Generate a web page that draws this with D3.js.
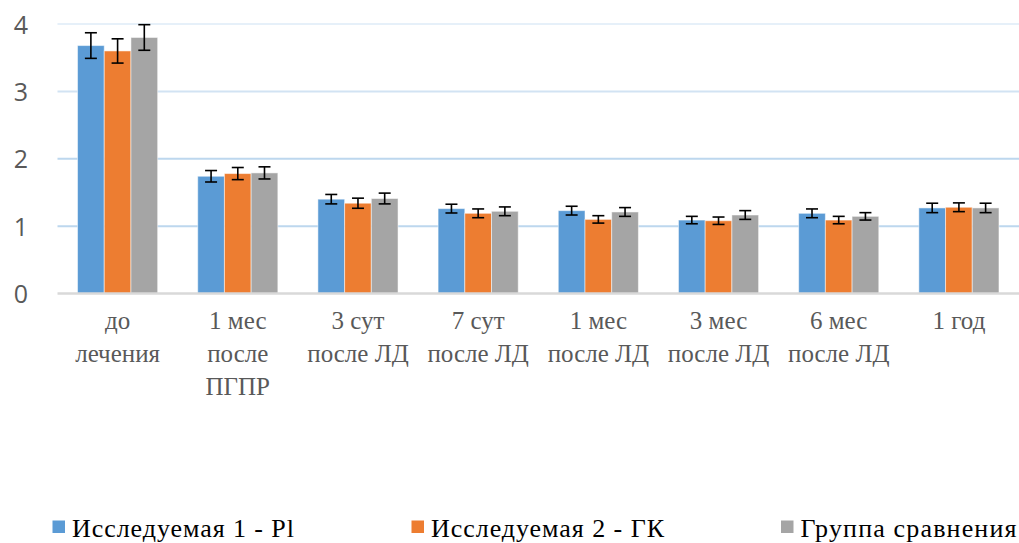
<!DOCTYPE html>
<html>
<head>
<meta charset="utf-8">
<script src="https://cdn.jsdelivr.net/npm/d3@7"></script>
<style>
  html, body { margin: 0; padding: 0; background: #fff; }
  svg { display: block; }
  .serif { font-family: "Liberation Serif", "Times New Roman", Tinos, "DejaVu Serif", "Noto Serif", serif; }
</style>
</head>
<body>
<svg id="chart" width="1019" height="543"></svg>
<script>
// Category labels (one entry per line of the wrapped label)
const categories = [
  ["до", "лечения"],
  ["1 мес", "после", "ПГПР"],
  ["3 сут", "после ЛД"],
  ["7 сут", "после ЛД"],
  ["1 мес", "после ЛД"],
  ["3 мес", "после ЛД"],
  ["6 мес", "после ЛД"],
  ["1 год"]
];

const seriesNames = ["Исследуемая 1 - Pl", "Исследуемая 2 - ГК", "Группа сравнения"];

// Mean values per group
const values1 = [3.68, 1.74, 1.40, 1.26, 1.23, 1.09, 1.19, 1.27];
const values2 = [3.60, 1.78, 1.34, 1.19, 1.10, 1.08, 1.09, 1.28];
const values3 = [3.80, 1.79, 1.41, 1.22, 1.21, 1.165, 1.145, 1.27];

// Error half-widths
const errors1 = [0.19, 0.085, 0.07, 0.065, 0.065, 0.055, 0.065, 0.07];
const errors2 = [0.18, 0.09, 0.075, 0.065, 0.055, 0.055, 0.055, 0.065];
const errors3 = [0.19, 0.09, 0.08, 0.065, 0.065, 0.065, 0.055, 0.07];

const yTicks = [0, 1, 2, 3, 4];

const colors = ["#5B9BD5", "#ED7D31", "#A5A5A5"];

const seriesValues = [values1, values2, values3];
const seriesErrors = [errors1, errors2, errors3];

const svg = d3.select("#chart");

const plot = { left: 57.5, right: 1019, top: 24, bottom: 293.5 };

const x = d3.scaleBand()
  .domain(d3.range(categories.length))
  .range([plot.left, plot.right])
  .paddingInner(1 / 3)
  .paddingOuter(1 / 6);

const xs = d3.scaleBand()
  .domain(d3.range(seriesNames.length))
  .range([0, x.bandwidth()]);

const y = d3.scaleLinear()
  .domain([0, 4])
  .range([plot.bottom, plot.top]);

// Horizontal gridlines
const gridColors = { 1: "#bdd7ee", 2: "#bdd7ee", 3: "#d2e3f3", 4: "#e6f0f9" };
svg.append("g")
  .selectAll("line")
  .data(yTicks.filter(d => d > 0))
  .join("line")
  .attr("x1", plot.left)
  .attr("x2", plot.right)
  .attr("y1", d => y(d))
  .attr("y2", d => y(d))
  .attr("stroke", d => gridColors[d])
  .attr("stroke-width", 2);

// Y axis labels (no axis line or ticks)
const yAxis = d3.axisLeft(y).tickValues(yTicks).tickSize(0).tickPadding(0).tickFormat(d3.format("d"));
const yg = svg.append("g")
  .attr("transform", "translate(28,0)")
  .call(yAxis);
yg.select(".domain").remove();
yg.selectAll("text")
  .attr("font-family", "'Open Sans', 'Noto Sans', sans-serif")
  .attr("font-size", 25)
  .attr("fill", "#595959")
  .attr("dy", "0.36em");

// Bars
const groups = svg.append("g")
  .selectAll("g")
  .data(seriesNames.map((name, s) => ({ s, vals: seriesValues[s], errs: seriesErrors[s] })))
  .join("g");

groups.selectAll("rect")
  .data(d => d.vals.map((v, i) => ({ s: d.s, i, v })))
  .join("rect")
  .attr("x", d => x(d.i) + xs(d.s))
  .attr("y", d => y(d.v))
  .attr("width", xs.bandwidth())
  .attr("height", d => y(0) - y(d.v))
  .attr("fill", d => colors[d.s])
  .attr("stroke", "#ffffff")
  .attr("stroke-opacity", 0.5)
  .attr("stroke-width", 1);

// Baseline
svg.append("line")
  .attr("x1", plot.left)
  .attr("x2", plot.right)
  .attr("y1", y(0))
  .attr("y2", y(0))
  .attr("stroke", "#d9d9d9")
  .attr("stroke-width", 2.5);

// Error bars
const capHalf = 6;
const eb = svg.append("g")
  .selectAll("g")
  .data(seriesNames.flatMap((name, s) => seriesValues[s].map((v, i) => ({ s, i, v, e: seriesErrors[s][i] }))))
  .join("g")
  .attr("stroke", "#000")
  .attr("stroke-width", 1.6);

eb.append("line")
  .attr("x1", d => x(d.i) + xs(d.s) + xs.bandwidth() / 2)
  .attr("x2", d => x(d.i) + xs(d.s) + xs.bandwidth() / 2)
  .attr("y1", d => y(d.v + d.e))
  .attr("y2", d => y(d.v - d.e));
eb.append("line")
  .attr("x1", d => x(d.i) + xs(d.s) + xs.bandwidth() / 2 - capHalf)
  .attr("x2", d => x(d.i) + xs(d.s) + xs.bandwidth() / 2 + capHalf)
  .attr("y1", d => y(d.v + d.e))
  .attr("y2", d => y(d.v + d.e));
eb.append("line")
  .attr("x1", d => x(d.i) + xs(d.s) + xs.bandwidth() / 2 - capHalf)
  .attr("x2", d => x(d.i) + xs(d.s) + xs.bandwidth() / 2 + capHalf)
  .attr("y1", d => y(d.v - d.e))
  .attr("y2", d => y(d.v - d.e));

// Category labels
const catLabels = svg.append("g")
  .selectAll("text")
  .data(categories)
  .join("text")
  .attr("class", "serif")
  .attr("text-anchor", "middle")
  .attr("font-size", 25)
  .attr("fill", "#595959")
  .attr("transform", (d, i) => `translate(${x(i) + x.bandwidth() / 2},329)`);
catLabels.selectAll("tspan")
  .data(d => d)
  .join("tspan")
  .attr("x", 0)
  .attr("y", (d, j) => j * 33)
  .text(d => d);

// Legend
const legendX = [52.5, 411.5, 781];
const legendTextWidth = [222, 233, 216];
const legend = svg.append("g")
  .selectAll("g")
  .data(seriesNames)
  .join("g")
  .attr("transform", (d, i) => `translate(${legendX[i]},520.5)`);
legend.append("rect")
  .attr("width", 12.5)
  .attr("height", 12.5)
  .attr("fill", (d, i) => colors[i]);
legend.append("text")
  .attr("class", "serif")
  .attr("x", 19.5)
  .attr("y", 16.8)
  .attr("font-size", 26)
  .attr("fill", "#000")
  .attr("textLength", (d, i) => legendTextWidth[i])
  .attr("lengthAdjust", "spacing")
  .text(d => d);
</script>
</body>
</html>
